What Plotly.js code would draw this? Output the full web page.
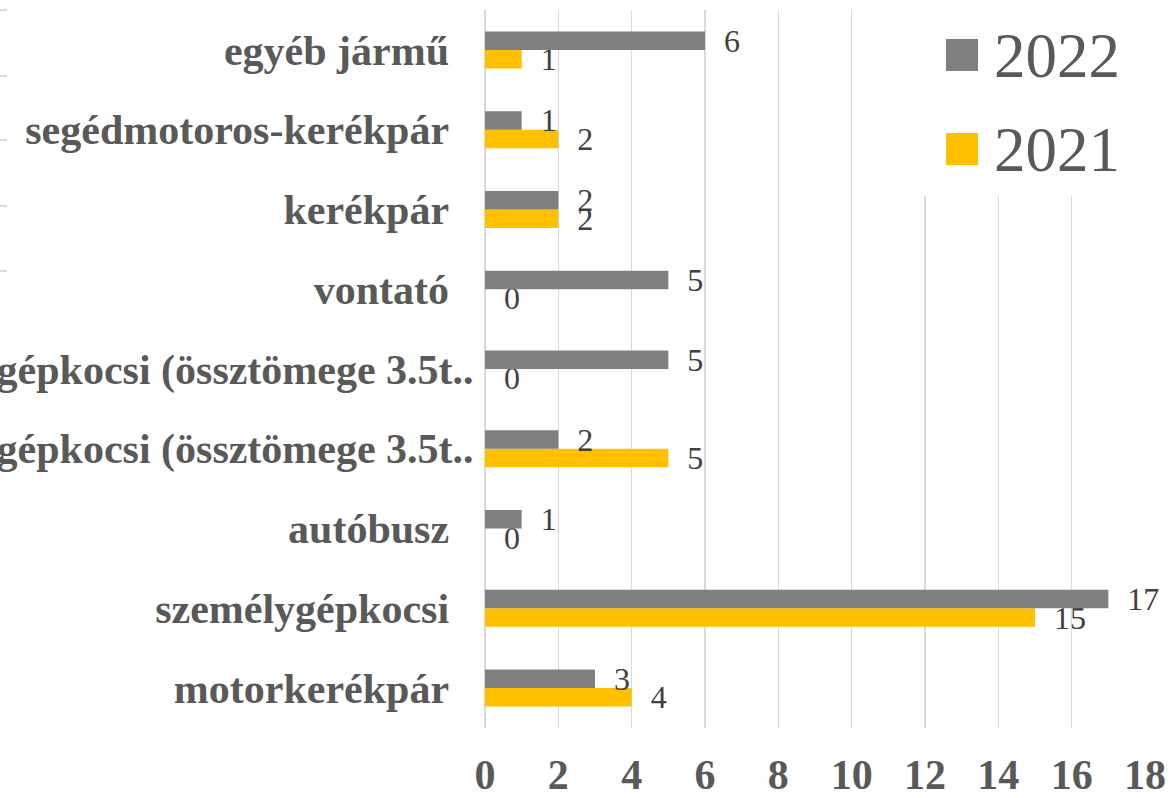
<!DOCTYPE html>
<html>
<head>
<meta charset="utf-8">
<script src="https://cdn.plot.ly/plotly-3.0.1.min.js"></script>
<style>html,body{margin:0;padding:0;background:#fff;overflow:hidden}#chart{width:1173px;height:798px}</style>
</head>
<body>
<div id="chart"></div>
<script>
// Categories (bottom to top)
const categories = [
  'motorkerékpár',
  'személygépkocsi',
  'autóbusz',
  'tehergépkocsi (össztömege 3.5t alatt)',
  'tehergépkocsi (össztömege 3.5t felett)',
  'vontató',
  'kerékpár',
  'segédmotoros-kerékpár',
  'egyéb jármű'
];
const tickLabels = [
  'motorkerékpár',
  'személygépkocsi',
  'autóbusz',
  'tehergépkocsi (össztömege 3.5t..',
  'tehergépkocsi (össztömege 3.5t..',
  'vontató',
  'kerékpár',
  'segédmotoros-kerékpár',
  'egyéb jármű'
];
const seriesNames = ['2022', '2021'];
const values2022 = [3, 17, 1, 2, 5, 5, 2, 1, 6];
const values2021 = [4, 15, 0, 5, 0, 0, 2, 2, 1];
const xTicks = [0, 2, 4, 6, 8, 10, 12, 14, 16, 18];

const colors = {'2022': '#7f7f7f', '2021': '#ffc000'};
const serif = 'Liberation Serif, Times New Roman, serif';
const pad = '\u00a0\u00a0\u200a';

const shortLabels = tickLabels.map(t => t.endsWith('..') ? t : t + pad);

function barTrace(name, vals) {
  return {
    type: 'bar', orientation: 'h', name: name,
    x: vals, y: categories,
    marker: {color: colors[name]},
    texttemplate: '\u00a0\u00a0%{x}',
    textposition: 'outside',
    constraintext: 'none',
    cliponaxis: false,
    textfont: {family: serif, size: 32, color: '#404040'},
    hoverinfo: 'skip',
    showlegend: false
  };
}

const data = [barTrace('2021', values2021), barTrace('2022', values2022)];

// plot area geometry (px) used for decoration placement
const L = 485, R = 28, T = 10, B = 70, W = 1173, H = 798;
const pw = W - L - R, ph = H - T - B;
const px = x => (x - L) / pw;
const py = y => (H - B - y) / ph;

const shapes = [
  {type: 'rect', xref: 'paper', yref: 'paper', x0: px(868), x1: px(1138), y0: py(196), y1: py(0),
   fillcolor: '#ffffff', line: {width: 0}, layer: 'above'}
];
const legendRows = [{name: seriesNames[0], top: 39}, {name: seriesNames[1], top: 133}];
const annotations = [];
legendRows.forEach(r => {
  shapes.push({type: 'rect', xref: 'paper', yref: 'paper', x0: px(946), x1: px(978),
    y0: py(r.top + 32), y1: py(r.top), fillcolor: colors[r.name], line: {width: 0}, layer: 'above'});
  annotations.push({xref: 'paper', yref: 'paper', x: px(992), y: py(r.top + 17), xanchor: 'left', yanchor: 'middle',
    text: r.name, showarrow: false, font: {family: serif, size: 63, color: '#595959'}});
});
// small stray tick marks at far left
[10, 76, 140, 206, 271].forEach(y => {
  shapes.push({type: 'line', xref: 'paper', yref: 'paper', x0: px(0), x1: px(7), y0: py(y), y1: py(y),
    line: {color: '#d9d9d9', width: 2}});
});

const layout = {
  width: W, height: H,
  margin: {l: L, r: R, t: T, b: B, pad: 0},
  paper_bgcolor: '#ffffff', plot_bgcolor: '#ffffff',
  barmode: 'group', bargap: 0.536, bargroupgap: 0,
  font: {family: serif, color: '#595959'},
  xaxis: {
    range: [0, 18], tickmode: 'array', tickvals: xTicks, ticktext: xTicks.map(String),
    showgrid: true, gridcolor: '#d9d9d9', gridwidth: 1.5,
    zeroline: true, zerolinecolor: '#d9d9d9', zerolinewidth: 1.5,
    showline: false, ticks: 'outside', ticklen: 10, tickcolor: 'rgba(0,0,0,0)',
    tickfont: {family: serif, size: 42, color: '#595959', weight: 'bold'},
    automargin: false, fixedrange: true
  },
  yaxis: {
    type: 'category', categoryorder: 'array', categoryarray: categories,
    tickmode: 'array', tickvals: categories, ticktext: shortLabels,
    showgrid: false, zeroline: false, showline: false,
    ticks: 'outside', ticklen: 2, tickcolor: 'rgba(0,0,0,0)',
    tickfont: {family: serif, size: 42, color: '#595959', weight: 'bold'},
    automargin: false, fixedrange: true
  },
  shapes: shapes,
  annotations: annotations,
  showlegend: false
};

Plotly.newPlot('chart', data, layout, {staticPlot: true, displayModeBar: false});
</script>
</body>
</html>
